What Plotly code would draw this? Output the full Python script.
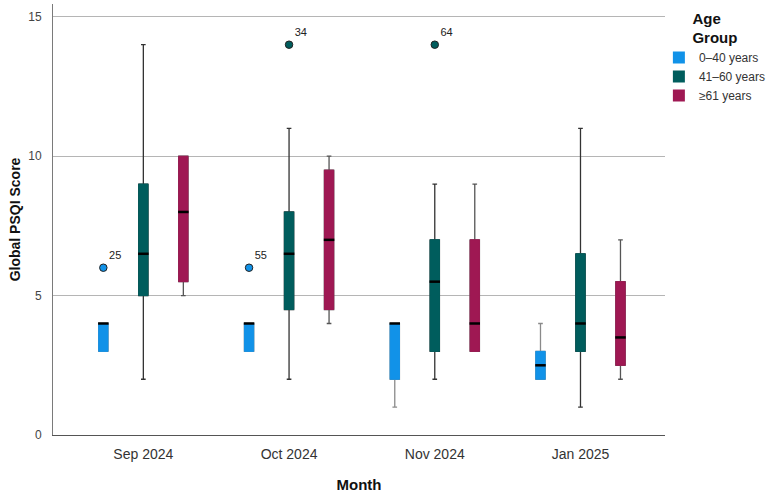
import plotly.graph_objects as go

months = ["Sep 2024", "Oct 2024", "Nov 2024", "Jan 2025"]
groups = ["0–40 years", "41–60 years", "≥61 years"]
colors = ["#1192e8", "#005d5d", "#9f1853"]
whisker_colors = ["#8a8a8a", "#333333", "#555555"]

# box statistics per group, per month
q1 = [[3, 3, 2, 2], [5, 4.5, 3, 3], [5.5, 4.5, 3, 2.5]]
median = [[4, 4, 4, 2.5], [6.5, 6.5, 5.5, 4], [8, 7, 4, 3.5]]
q3 = [[4, 4, 4, 3], [9, 8, 7, 6.5], [10, 9.5, 7, 5.5]]
lower = [[3, 3, 1, 2], [2, 2, 2, 1], [5, 4, 3, 2]]
upper = [[4, 4, 4, 4], [14, 11, 9, 11], [10, 10, 9, 7]]

# outliers: (group index, month index, value, case label)
out_group = [0, 0, 1, 1]
out_month = [0, 1, 1, 2]
out_value = [6, 6, 14, 14]
out_label = ["25", "55", "34", "64"]

offsets = [-0.2745, 0.0, 0.2745]
box_w = 0.064

fig = go.Figure()
for g in range(3):
    xs = [i + offsets[g] for i in range(len(months))]
    # whiskers + caps
    fig.add_trace(go.Box(
        x=xs, q1=q1[g], median=median[g], q3=q3[g],
        lowerfence=lower[g], upperfence=upper[g],
        width=box_w, whiskerwidth=0.5,
        fillcolor=colors[g], line=dict(color=whisker_colors[g], width=1.3),
        showlegend=False, hoverinfo="skip",
    ))
for g in range(3):
    xs = [i + offsets[g] for i in range(len(months))]
    # box body without dark outline
    fig.add_trace(go.Box(
        x=xs, q1=q1[g], median=median[g], q3=q3[g],
        lowerfence=q1[g], upperfence=q3[g],
        width=box_w, whiskerwidth=0,
        fillcolor=colors[g], line=dict(color=colors[g], width=1),
        showlegend=False, name=groups[g],
    ))
for g in range(3):
    xs = [i + offsets[g] for i in range(len(months))]
    fig.add_trace(go.Scatter(
        x=xs, y=median[g], mode="markers",
        marker=dict(symbol="line-ew", size=7.5, line=dict(color="black", width=2.5)),
        showlegend=False, hoverinfo="skip",
    ))

fig.add_trace(go.Scatter(
    x=[out_month[k] + offsets[out_group[k]] for k in range(len(out_value))],
    y=out_value, mode="markers+text",
    text=out_label, textposition="top right",
    textfont=dict(size=11, color="#222222"),
    marker=dict(size=7.5, color=[colors[g] for g in out_group],
                line=dict(color="#222222", width=1)),
    showlegend=False,
))

for g in range(3):
    fig.add_trace(go.Scatter(
        x=[None], y=[None], mode="markers", name=groups[g],
        marker=dict(symbol="square", size=10, color=colors[g]),
    ))

fig.update_layout(
    width=767, height=496,
    margin=dict(l=53, r=102, t=4, b=61, autoexpand=False),
    paper_bgcolor="white", plot_bgcolor="white",
    font=dict(family="Liberation Sans, Arial, sans-serif", color="#222222"),
    showlegend=True,
    legend=dict(
        x=0.99, xanchor="left", y=1.0, yanchor="top",
        title=dict(text="<b>Age<br>Group</b>", side="top center",
                   font=dict(size=15, color="#111111")),
        font=dict(size=12, color="#333333"),
        itemsizing="constant", tracegroupgap=0,
        bgcolor="rgba(0,0,0,0)",
    ),
    xaxis=dict(
        range=[-0.62, 3.58], tickmode="array",
        tickvals=list(range(len(months))), ticktext=months,
        showgrid=False, zeroline=False,
        showline=True, linecolor="#555555", linewidth=1,
        ticks="", ticklabelstandoff=6, tickfont=dict(size=14, color="#333333"),
        title=dict(text="<b>Month</b>", font=dict(size=15, color="#111111"), standoff=18),
    ),
    yaxis=dict(
        range=[0, 15.46], tickvals=[0, 5, 10, 15],
        showgrid=True, gridcolor="#b5b5b5", gridwidth=1,
        zeroline=False, showline=True, linecolor="#7a7a7a", linewidth=1,
        ticks="", ticklabelstandoff=8,
        tickfont=dict(size=12, color="#444444"),
        title=dict(text="<b>Global PSQI Score</b>", font=dict(size=14, color="#111111"), standoff=4),
    ),
)

fig.write_html("out.html")
